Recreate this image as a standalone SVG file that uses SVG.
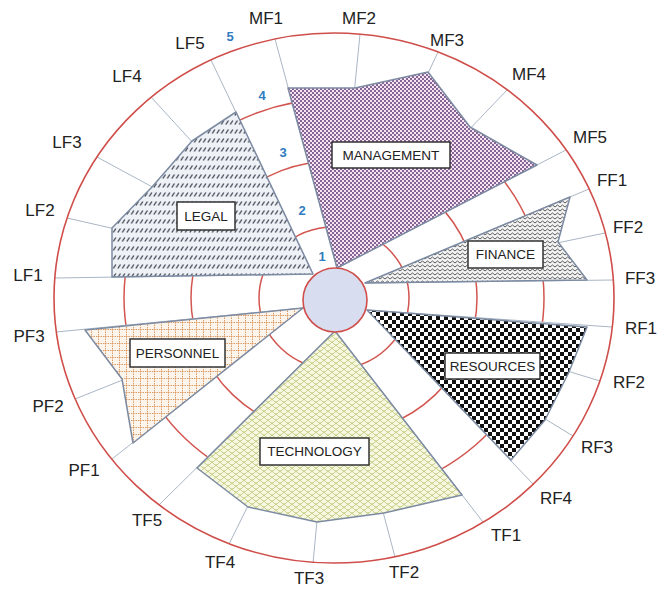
<svg xmlns="http://www.w3.org/2000/svg" width="669" height="589" viewBox="0 0 669 589">
<defs>
<style>
.ring{fill:none;stroke:#d2554f;stroke-width:1.5}
.outer{fill:none;stroke:#cf4e4a;stroke-width:1.6}
.fan{fill:#fff;stroke:none}
.spoke{stroke:#a9b6c4;stroke-width:1}
.poly{stroke:#7c8ba2;stroke-width:1.5;stroke-linejoin:round}
.box{fill:#fff;stroke:#333;stroke-width:1.5}
.btxt{font-family:"Liberation Sans",Arial,sans-serif;font-size:13.5px;fill:#222;text-anchor:middle}
.ax{font-family:"Liberation Sans",Arial,sans-serif;font-size:17px;fill:#222;text-anchor:middle}
.lvl{font-family:"Liberation Sans",Arial,sans-serif;font-size:13px;font-weight:bold;fill:#2f7cc0;text-anchor:middle}
</style>
<pattern id="pMan" width="4" height="4" patternUnits="userSpaceOnUse">
<rect width="4" height="4" fill="#f6e4f4"/>
<circle cx="1" cy="1" r="0.95" fill="#55306a"/>
<circle cx="3" cy="3" r="0.95" fill="#55306a"/>
</pattern>
<pattern id="pLeg" width="4.5" height="9" patternUnits="userSpaceOnUse">
<rect width="4.5" height="9" fill="#eef1f6"/>
<line x1="0.8" y1="7.5" x2="3.4" y2="3.5" stroke="#3a3f4c" stroke-width="1.3"/>
</pattern>
<pattern id="pFin" width="5" height="4" patternUnits="userSpaceOnUse">
<rect width="5" height="4" fill="#f3f3f3"/>
<polyline points="0,3 2.5,1 5,3" fill="none" stroke="#4a4a4a" stroke-width="0.9"/>
</pattern>
<pattern id="pRes" width="8" height="8" patternUnits="userSpaceOnUse">
<rect width="8" height="8" fill="#fff"/>
<rect width="4" height="4" fill="#111"/>
<rect x="4" y="4" width="4" height="4" fill="#111"/>
</pattern>
<pattern id="pTec" width="8" height="6" patternUnits="userSpaceOnUse">
<rect width="8" height="6" fill="#f7f8e2"/>
<path d="M0,3 Q4,9 8,3 M-4,6 Q0,12 4,6 M4,6 Q8,12 12,6 M-4,0 Q0,6 4,0 M4,0 Q8,6 12,0" fill="none" stroke="#c3cb7e" stroke-width="0.9"/>
</pattern>
<pattern id="pPer" width="7" height="7" patternUnits="userSpaceOnUse">
<rect width="7" height="7" fill="#fdf5ec"/>
<path d="M0,0.5 H7 M0.5,0 V7" stroke="#d99a64" stroke-width="1" stroke-dasharray="1.5,1"/>
</pattern>
</defs>
<rect width="669" height="589" fill="#fff"/>

<g id="grid">
<ellipse class="ring" cx="334" cy="298" rx="75" ry="71"/>
<ellipse class="ring" cx="334" cy="298" rx="143" ry="137"/>
<ellipse class="ring" cx="334" cy="298" rx="210" ry="199"/>
<path class="fan" d="M337,268 L275,39 A280,265 0 0 1 566,150 Z"/>
<path class="fan" d="M365,283 L589,189 A280,265 0 0 1 614,280 Z"/>
<path class="fan" d="M367,310 L612,327 A280,265 0 0 1 533,484 Z"/>
<path class="fan" d="M335,331 L483,522 A280,265 0 0 1 159,505 Z"/>
<path class="fan" d="M303,308 L112,459 A280,265 0 0 1 56,332 Z"/>
<path class="fan" d="M313,274 L55,278 A280,265 0 0 1 211,60 Z"/>
</g>

<g id="connectors">
<line class="spoke" x1="337" y1="268" x2="275" y2="39"/>
<line class="spoke" x1="337" y1="268" x2="360" y2="34"/>
<line class="spoke" x1="337" y1="268" x2="438" y2="52"/>
<line class="spoke" x1="337" y1="268" x2="507" y2="90"/>
<line class="spoke" x1="337" y1="268" x2="566" y2="150"/>
<line class="spoke" x1="365" y1="283" x2="589" y2="189"/>
<line class="spoke" x1="365" y1="283" x2="605" y2="233"/>
<line class="spoke" x1="365" y1="283" x2="614" y2="280"/>
<line class="spoke" x1="367" y1="310" x2="612" y2="327"/>
<line class="spoke" x1="367" y1="310" x2="600" y2="381"/>
<line class="spoke" x1="367" y1="310" x2="573" y2="436"/>
<line class="spoke" x1="367" y1="310" x2="533" y2="484"/>
<line class="spoke" x1="335" y1="331" x2="483" y2="522"/>
<line class="spoke" x1="335" y1="331" x2="395" y2="557"/>
<line class="spoke" x1="335" y1="331" x2="313" y2="563"/>
<line class="spoke" x1="335" y1="331" x2="229" y2="544"/>
<line class="spoke" x1="335" y1="331" x2="159" y2="505"/>
<line class="spoke" x1="303" y1="308" x2="112" y2="459"/>
<line class="spoke" x1="303" y1="308" x2="75" y2="399"/>
<line class="spoke" x1="303" y1="308" x2="56" y2="332"/>
<line class="spoke" x1="313" y1="274" x2="55" y2="278"/>
<line class="spoke" x1="313" y1="274" x2="67" y2="218"/>
<line class="spoke" x1="313" y1="274" x2="97" y2="157"/>
<line class="spoke" x1="313" y1="274" x2="151" y2="97"/>
<line class="spoke" x1="313" y1="274" x2="211" y2="60"/>
</g>

<g id="management">
<polygon class="poly" fill="url(#pMan)" points="337,268 288,88 355,88 428,72 470,127 537,165"/>
<rect class="box" x="332" y="142" width="118" height="26"/>
<text class="btxt" x="391" y="160">MANAGEMENT</text>
</g>
<g id="finance">
<polygon class="poly" fill="url(#pFin)" points="365,283 570,197 558,242 587,280"/>
<rect class="box" x="468" y="241" width="75" height="27"/>
<text class="btxt" x="505.5" y="259">FINANCE</text>
</g>
<g id="resources">
<polygon class="poly" fill="url(#pRes)" points="367,310 587,327 569,372 545,420 511,460"/>
<rect class="box" x="445" y="353" width="95" height="26"/>
<text class="btxt" x="492.5" y="371">RESOURCES</text>
</g>
<g id="technology">
<polygon class="poly" fill="url(#pTec)" points="335,331 462,495 384,513 317,522 248,507 197,468"/>
<rect class="box" x="260" y="438" width="109" height="27"/>
<text class="btxt" x="314.5" y="456">TECHNOLOGY</text>
</g>
<g id="personnel">
<polygon class="poly" fill="url(#pPer)" points="303,308 85,330 122,379 133,443"/>
<rect class="box" x="130" y="339" width="95" height="28"/>
<text class="btxt" x="177.5" y="358">PERSONNEL</text>
</g>
<g id="legal">
<polygon class="poly" fill="url(#pLeg)" points="313,274 112,277 112,228 152,187 192,141 236,112"/>
<rect class="box" x="177" y="202" width="58" height="28"/>
<text class="btxt" x="206" y="221">LEGAL</text>
</g>

<g id="frame">
<ellipse class="outer" cx="334" cy="298" rx="280" ry="265"/>
<circle cx="335" cy="300" r="32" fill="#d8ddf0" stroke="#cf4e4a" stroke-width="1.6"/>
</g>

<g id="levels">
<text class="lvl" x="230" y="41">5</text>
<text class="lvl" x="262" y="100">4</text>
<text class="lvl" x="283" y="157">3</text>
<text class="lvl" x="302" y="215">2</text>
<text class="lvl" x="322" y="261">1</text>
</g>

<g id="axis-labels">
<text class="ax" x="266" y="24">MF1</text>
<text class="ax" x="359" y="24">MF2</text>
<text class="ax" x="447" y="46">MF3</text>
<text class="ax" x="529" y="80">MF4</text>
<text class="ax" x="590" y="143">MF5</text>
<text class="ax" x="612" y="186">FF1</text>
<text class="ax" x="628" y="233">FF2</text>
<text class="ax" x="640" y="284">FF3</text>
<text class="ax" x="641" y="334">RF1</text>
<text class="ax" x="629" y="388">RF2</text>
<text class="ax" x="597" y="453">RF3</text>
<text class="ax" x="556" y="504">RF4</text>
<text class="ax" x="506" y="541">TF1</text>
<text class="ax" x="404" y="578">TF2</text>
<text class="ax" x="309" y="584">TF3</text>
<text class="ax" x="220" y="568">TF4</text>
<text class="ax" x="147" y="526">TF5</text>
<text class="ax" x="84" y="476">PF1</text>
<text class="ax" x="48" y="412">PF2</text>
<text class="ax" x="29" y="342">PF3</text>
<text class="ax" x="28" y="281">LF1</text>
<text class="ax" x="40" y="216">LF2</text>
<text class="ax" x="67" y="148">LF3</text>
<text class="ax" x="127" y="82">LF4</text>
<text class="ax" x="190" y="49">LF5</text>
</g>
</svg>
